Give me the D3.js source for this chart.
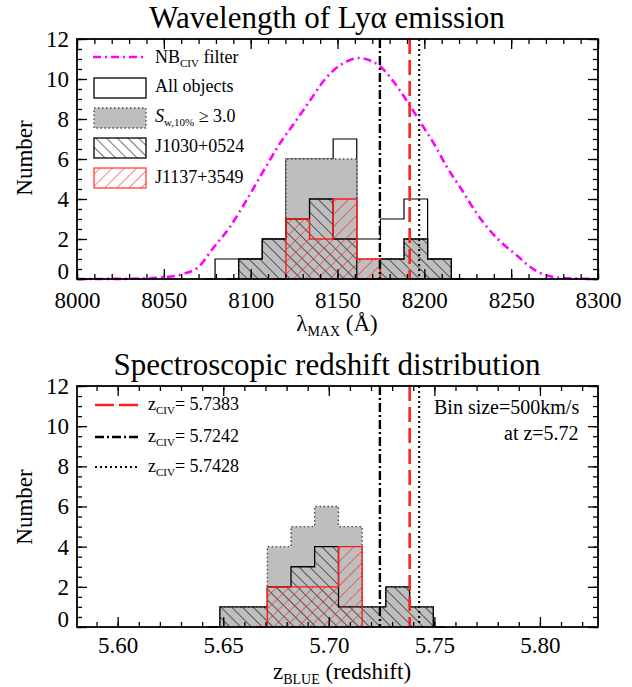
<!DOCTYPE html>
<html>
<head>
<meta charset="utf-8">
<script src="https://cdn.jsdelivr.net/npm/d3@7"></script>
<style>
  body { margin: 0; background: #fff; }
  text { font-family: "Liberation Serif", "Times New Roman", serif; fill: #000; }
</style>
</head>
<body>
<svg id="chart" width="632" height="687"></svg>
<script>
// ---- data: top panel (wavelength of Lya peak) ----
const lambdaEdges = [8079.5, 8093.1, 8106.7, 8120.3, 8133.9, 8147.5, 8161.1, 8174.7, 8188.3, 8201.9, 8215.5];
const allObjects  = [1, 1, 2, 6, 6, 7, 2, 3, 4, 1];
const swHigh      = [0, 1, 2, 6, 6, 6, 1, 1, 2, 1];
const j1030Lambda = [0, 1, 2, 3, 4, 2, 0, 1, 2, 1];
const j1137Lambda = [0, 0, 0, 3, 2, 4, 1, 0, 0, 0];

// NB_CIV filter curve (scaled)
const filterWave  = [8000, 8030, 8048, 8061, 8070, 8078, 8088, 8098, 8108, 8117, 8126, 8134, 8142, 8150, 8156, 8162,
                     8168, 8175, 8182, 8190, 8198, 8206, 8213, 8222, 8230, 8238, 8246, 8253, 8261, 8268, 8280, 8300];
const filterTrans = [0, 0.01, 0.07, 0.25, 0.6, 1.5, 2.6, 4.0, 5.5, 6.8, 7.9, 8.9, 9.9, 10.6, 10.9, 11.05,
                     10.95, 10.6, 9.9, 8.9, 7.8, 6.7, 5.6, 4.4, 3.3, 2.4, 1.7, 1.2, 0.6, 0.25, 0.05, 0];

// ---- data: bottom panel (spectroscopic redshift) ----
const zEdges  = [5.6484, 5.6596, 5.6709, 5.6821, 5.6933, 5.7046, 5.7158, 5.7270, 5.7383, 5.7495];
const zSwHigh = [1, 1, 4, 5, 6, 5, 1, 2, 1];
const zJ1030  = [1, 1, 2, 3, 4, 1, 1, 2, 1];
const zJ1137  = [0, 0, 2, 2, 2, 4, 0, 0, 0];

const zCiv      = [5.7383, 5.7242, 5.7428];
const zCivLabel = ["5.7383", "5.7242", "5.7428"];

const lambdaTicks = [8000, 8050, 8100, 8150, 8200, 8250, 8300];
const zTicks      = [5.60, 5.65, 5.70, 5.75, 5.80];
const yTicks      = [0, 2, 4, 6, 8, 10, 12];
const lyaRest = 1215.67;

const W = 632, H = 687;
const left = 77, right = 598;
const serif = '"Liberation Serif", "Times New Roman", serif';
const svg = d3.select("#chart");
svg.append("rect").attr("width", W).attr("height", H).attr("fill", "#fff");

// hatch patterns
const defs = svg.append("defs");
function hatch(id, color, angle, gap) {
  defs.append("pattern")
    .attr("id", id)
    .attr("patternUnits", "userSpaceOnUse")
    .attr("width", gap).attr("height", gap)
    .attr("patternTransform", `rotate(${angle})`)
    .append("line")
    .attr("x1", 0).attr("y1", 0).attr("x2", 0).attr("y2", gap)
    .attr("stroke", color).attr("stroke-width", 1.1);
}
hatch("hatchBlack", "#000", -45, 7.6);
hatch("hatchRed", "#ff1a1a", 45, 8.6);

const lineStyles = [
  { color: "#ff2020", width: 2.6, dash: "15,6" },      // z = 5.7383
  { color: "#000", width: 2.4, dash: "9,3,2,3" },       // z = 5.7242
  { color: "#000", width: 2, dash: "2,3" }              // z = 5.7428
];

function stepPoints(edges, counts) {
  const first = counts.findIndex(c => c > 0);
  let last = counts.length - 1;
  while (counts[last] === 0) last--;
  const half = (edges[1] - edges[0]) / 2;
  const pts = [[edges[first] - half, 0], [edges[first], 0]];
  for (let i = first; i <= last; i++) {
    pts.push([edges[i], counts[i]], [edges[i + 1], counts[i]]);
  }
  pts.push([edges[last + 1], 0], [edges[last + 1] + half, 0]);
  return pts;
}

function drawHist(g, x, y, edges, counts, fill, stroke, width, dash) {
  const line = d3.line().x(d => x(d[0])).y(d => y(d[1]));
  const pts = stepPoints(edges, counts);
  g.append("path").attr("d", line(pts) + "Z").attr("fill", fill).attr("stroke", "none");
  g.append("path").attr("d", line(pts))
    .attr("fill", "none").attr("stroke", stroke).attr("stroke-width", width)
    .attr("stroke-dasharray", dash || null);
}

function drawAxes(g, x, y, top, bottom, majors, minors, fmt, labelY) {
  const fontSize = "23px";
  const xb = g.append("g").attr("transform", `translate(0,${bottom})`)
    .call(d3.axisBottom(x).tickValues(majors).tickSize(-10).tickFormat(fmt));
  xb.selectAll("text").attr("y", labelY).attr("dy", "0.71em");
  g.append("g").attr("transform", `translate(0,${bottom})`)
    .call(d3.axisBottom(x).tickValues(minors).tickSize(-5).tickFormat(""));
  g.append("g").attr("transform", `translate(0,${top})`)
    .call(d3.axisTop(x).tickValues(majors).tickSize(-10).tickFormat(""));
  g.append("g").attr("transform", `translate(0,${top})`)
    .call(d3.axisTop(x).tickValues(minors).tickSize(-5).tickFormat(""));

  const yMinor = d3.range(0, 12.01, 0.5);
  const yl = g.append("g").attr("transform", `translate(${left},0)`)
    .call(d3.axisLeft(y).tickValues(yTicks).tickSize(-10).tickPadding(8));
  yl.selectAll("text").attr("dy", d => d === 0 ? "-0.02em" : "0.32em");
  g.append("g").attr("transform", `translate(${left},0)`)
    .call(d3.axisLeft(y).tickValues(yMinor).tickSize(-5).tickFormat(""));
  g.append("g").attr("transform", `translate(${right},0)`)
    .call(d3.axisRight(y).tickValues(yTicks).tickSize(-10).tickFormat(""));
  g.append("g").attr("transform", `translate(${right},0)`)
    .call(d3.axisRight(y).tickValues(yMinor).tickSize(-5).tickFormat(""));

  g.selectAll(".domain").remove();
  g.selectAll(".tick line").attr("stroke", "#000").attr("stroke-width", 1.3);
  g.selectAll(".tick text")
    .attr("font-family", serif)
    .style("font-family", serif).style("font-size", fontSize).style("fill", "#000");
  g.append("rect").attr("x", left).attr("y", top).attr("width", right - left).attr("height", bottom - top)
    .attr("fill", "none").attr("stroke", "#000").attr("stroke-width", 1.8);
}

function yLabel(g, cy) {
  g.append("text").attr("transform", `translate(32,${cy}) rotate(-90)`)
    .attr("text-anchor", "middle").attr("font-size", 23).text("Number");
}

// ================= top panel =================
{
  const top = 39, bottom = 279;
  const g = svg.append("g").attr("font-family", serif);
  const x = d3.scaleLinear().domain([8000, 8300]).range([left, right]);
  const y = d3.scaleLinear().domain([0, 12]).range([bottom, top]);

  drawHist(g, x, y, lambdaEdges, allObjects, "#fff", "#000", 1.2);
  drawHist(g, x, y, lambdaEdges, swHigh, "#bebebe", "#444", 1.4, "1.5,2.5");
  drawHist(g, x, y, lambdaEdges, j1030Lambda, "url(#hatchBlack)", "#000", 1.3);
  drawHist(g, x, y, lambdaEdges, j1137Lambda, "url(#hatchRed)", "#ff1a1a", 1.4);

  g.append("path")
    .attr("d", d3.line().curve(d3.curveMonotoneX).x(d => x(d[0])).y(d => y(d[1]))(d3.zip(filterWave, filterTrans)))
    .attr("fill", "none").attr("stroke", "#ff00ff").attr("stroke-width", 2.6)
    .attr("stroke-dasharray", "8,4,2,4");

  zCiv.forEach((z, i) => {
    const s = lineStyles[i];
    const xv = x((1 + z) * lyaRest);
    g.append("line").attr("x1", xv).attr("x2", xv).attr("y1", top).attr("y2", bottom)
      .attr("stroke", s.color).attr("stroke-width", s.width).attr("stroke-dasharray", s.dash);
  });

  drawAxes(g, x, y, top, bottom, lambdaTicks, d3.range(8000, 8301, 10), d3.format("d"), 13);

  g.append("text").attr("x", 327).attr("y", 28).attr("text-anchor", "middle").attr("font-size", 31)
    .text("Wavelength of Lyα emission");
  const xl = g.append("text").attr("x", 337).attr("y", 331).attr("text-anchor", "middle").attr("font-size", 23);
  xl.append("tspan").text("λ");
  xl.append("tspan").attr("font-size", 14).attr("dy", 5).text("MAX");
  xl.append("tspan").attr("dy", -5).text(" (Å)");
  yLabel(g, 158);

  // legend
  const lg = g.append("g");
  lg.append("line").attr("x1", 93).attr("x2", 147).attr("y1", 57).attr("y2", 57)
    .attr("stroke", "#ff00ff").attr("stroke-width", 2.6).attr("stroke-dasharray", "8,4,2,4");
  const t0 = lg.append("text").attr("x", 155).attr("y", 63).attr("font-size", 18);
  t0.append("tspan").text("NB");
  t0.append("tspan").attr("font-size", 11).attr("dy", 4).text("CIV");
  t0.append("tspan").attr("dy", -4).text(" filter");

  const boxes = [
    { y: 78, fill: "#fff", stroke: "#000", dash: null },
    { y: 108, fill: "#bebebe", stroke: "#444", dash: "1.5,2.5" },
    { y: 138, fill: "url(#hatchBlack)", stroke: "#000", dash: null },
    { y: 168, fill: "url(#hatchRed)", stroke: "#ff4040", dash: null }
  ];
  boxes.forEach(b => {
    lg.append("rect").attr("x", 94).attr("y", b.y).attr("width", 52).attr("height", 20)
      .attr("fill", b.fill).attr("stroke", b.stroke).attr("stroke-width", 1.3)
      .attr("stroke-dasharray", b.dash);
  });
  lg.append("text").attr("x", 155).attr("y", 92).attr("font-size", 18).text("All objects");
  const t2 = lg.append("text").attr("x", 155).attr("y", 122).attr("font-size", 18);
  t2.append("tspan").attr("font-style", "italic").text("S");
  t2.append("tspan").attr("font-size", 11).attr("dy", 4).text("w,10%");
  t2.append("tspan").attr("dy", -4).text(" ≥ 3.0");
  lg.append("text").attr("x", 155).attr("y", 152).attr("font-size", 18).text("J1030+0524");
  lg.append("text").attr("x", 155).attr("y", 183).attr("font-size", 18).text("J1137+3549");
}

// ================= bottom panel =================
{
  const top = 386, bottom = 627;
  const g = svg.append("g").attr("font-family", serif);
  const x = d3.scaleLinear().domain([8000 / lyaRest - 1, 8300 / lyaRest - 1]).range([left, right]);
  const y = d3.scaleLinear().domain([0, 12]).range([bottom, top]);

  drawHist(g, x, y, zEdges, zSwHigh, "#bebebe", "#444", 1.4, "1.5,2.5");
  drawHist(g, x, y, zEdges, zJ1030, "url(#hatchBlack)", "#000", 1.3);
  drawHist(g, x, y, zEdges, zJ1137, "url(#hatchRed)", "#ff1a1a", 1.4);

  zCiv.forEach((z, i) => {
    const s = lineStyles[i];
    const xv = x(z);
    g.append("line").attr("x1", xv).attr("x2", xv).attr("y1", top).attr("y2", bottom)
      .attr("stroke", s.color).attr("stroke-width", s.width).attr("stroke-dasharray", s.dash);
  });

  drawAxes(g, x, y, top, bottom, zTicks, d3.range(5.59, 5.825, 0.01), d3.format(".2f"), 10);

  g.append("text").attr("x", 327).attr("y", 375).attr("text-anchor", "middle").attr("font-size", 31)
    .text("Spectroscopic redshift distribution");
  const xl = g.append("text").attr("x", 342).attr("y", 679).attr("text-anchor", "middle").attr("font-size", 23);
  xl.append("tspan").text("z");
  xl.append("tspan").attr("font-size", 14).attr("dy", 5).text("BLUE");
  xl.append("tspan").attr("dy", -5).text(" (redshift)");
  yLabel(g, 507);

  // legend
  const legY = [405, 437, 467];
  zCiv.forEach((z, i) => {
    const s = lineStyles[i];
    g.append("line").attr("x1", 95).attr("x2", 139).attr("y1", legY[i]).attr("y2", legY[i])
      .attr("stroke", s.color).attr("stroke-width", s.width)
      .attr("stroke-dasharray", i === 0 ? "19,5" : s.dash);
    const t = g.append("text").attr("x", 148).attr("y", legY[i] + 5).attr("font-size", 18);
    t.append("tspan").text("z");
    t.append("tspan").attr("font-size", 11).attr("dy", 4).text("CIV");
    t.append("tspan").attr("dy", -4).text("= " + zCivLabel[i]);
  });

  g.append("text").attr("x", 434).attr("y", 414).attr("font-size", 20).text("Bin size=500km/s");
  g.append("text").attr("x", 504).attr("y", 440).attr("font-size", 20).text("at z=5.72");
}
</script>
</body>
</html>
